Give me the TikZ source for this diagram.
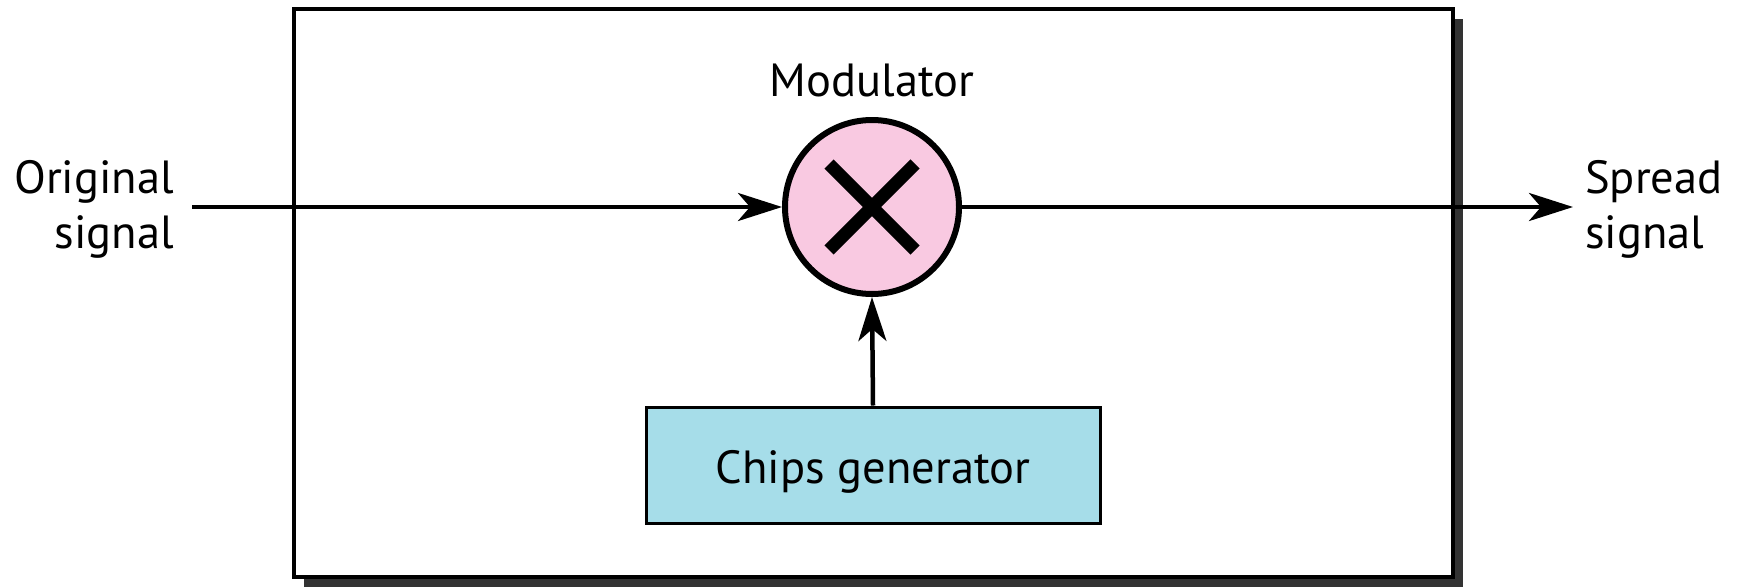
\documentclass[tikz,border=0pt]{standalone}
\usepackage{fontspec}
\setmainfont{PT Sans}
\usetikzlibrary{arrows.meta}
\definecolor{modpink}{HTML}{F9C9E1}
\definecolor{chipblue}{HTML}{A6DDE9}
\definecolor{shadowgray}{HTML}{333333}
\begin{document}
\begin{tikzpicture}[x=1pt,y=-1pt,
  lbl/.style={font=\fontsize{46.5}{55}\selectfont, inner sep=0pt},
  conn/.style={line width=4.5pt, -{Stealth[length=44pt,width=28pt,inset=12pt]}},
  modcircle/.style={circle, draw, line width=6pt, fill=modpink, minimum size=174pt, inner sep=0pt},
  chipbox/.style={draw, line width=3pt, fill=chipblue, minimum width=454pt, minimum height=116pt, inner sep=0pt}
]
\useasboundingbox (0,0) rectangle (1738,587);
\fill[shadowgray] (304,19) rectangle (1463,587);
\draw[fill=white, line width=3.5pt] (294,9) rectangle (1453,577);

\node[modcircle] (mod) at (872,207) {};
\draw[line width=13pt] (829,164) -- (915,250);
\draw[line width=13pt] (915,164) -- (829,250);
\node[lbl] (modlbl) at (872,80) {Modulator};

\node[chipbox] (chips) at (873,465) {};
\node[lbl, anchor=base] (chipslbl) at (873,483) {Chips generator};

\coordinate (in) at (192,207);
\coordinate (out) at (1573,207);
\node[lbl, anchor=east, align=right] (orig) at (174,209) {Original\\signal};
\node[lbl, anchor=west, align=left] (spread) at (1585,209) {Spread\\signal};

\draw[conn] (in) -- (mod.west);
\draw[conn] (mod.east) -- (out);
\draw[conn] (chips.north) -- (mod.south);
\end{tikzpicture}
\end{document}
